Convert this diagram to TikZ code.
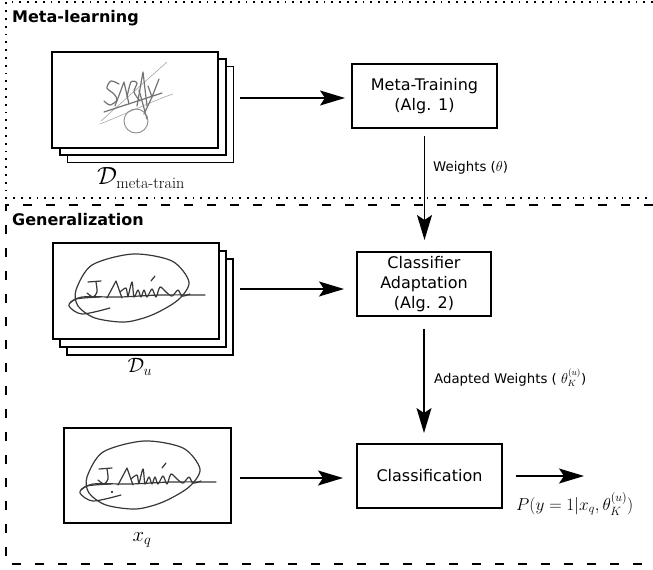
\documentclass[tikz,border=0pt]{standalone}
\usepackage{amsmath}
\usepackage[no-math]{fontspec}
\newfontfamily\dejavu{DejaVu Sans}
\usetikzlibrary{arrows.meta}
\begin{document}
\begin{tikzpicture}[x=1pt,y=-1pt,
  dotline/.style={line width=1.8pt,dash pattern=on 1.8pt off 6pt},
  dashline/.style={line width=1.8pt,dash pattern=on 9pt off 14pt},
  procbox/.style={draw,line width=1.3pt,inner sep=0pt,outer sep=0pt,minimum height=64pt,align=center,
    font=\dejavu\fontsize{16}{20}\selectfont},
  imgbox/.style={draw,line width=1.6pt,fill=white,inner sep=0pt,outer sep=0pt,minimum width=166pt,minimum height=96pt},
  arr/.style={line width=1.4pt,-{Stealth[length=25pt,width=15pt,inset=5pt]}},
  lbl/.style={font=\dejavu\fontsize{13.3}{15}\selectfont,inner sep=0pt},
  ttl/.style={font=\dejavu\bfseries\fontsize{16}{18}\selectfont,inner sep=0pt},
  mlbl/.style={inner sep=0pt,font=\fontsize{21}{24}\selectfont},
  sig/.style={line width=1.2pt,draw=black!78,line cap=round,line join=round},
  sigthin/.style={line width=0.6pt,draw=black!35,line cap=round},
  siggray/.style={line width=1.2pt,draw=black!55,line cap=round,line join=round}]
\useasboundingbox (0,0) rectangle (653,570);

% frames
\draw[dotline] (653,2) -- (6,2) -- (6,198) -- (653,198);
\draw[dashline] (653,205) -- (6,205) -- (6,564) -- (653,564);
\node[ttl,anchor=base west] (tml) at (12,23) {Meta-learning};
\node[ttl,anchor=base west] (tgen) at (12,225) {Generalization};

% stack 1
\node[imgbox] (bk1) at (150.5,114.5) {};
\node[imgbox] (md1) at (143,107) {};
\node[imgbox] (fr1) at (135,100) {};
\draw[sigthin] (101,121) -- (167,62);
\draw[sigthin] (100,124) .. controls (130,112) and (155,100) .. (173,94);
\draw[siggray] plot[smooth] coordinates {(119,84) (111,81) (107,88) (114,94) (117,100) (110,105) (104,101)};
\draw[siggray] (115,106) -- (124,82) -- (129,104);
\draw[siggray] plot[smooth] coordinates {(127,97) (131,82) (137,83) (134,92) (140,101)};
\draw[siggray] (137,106) -- (143,72) -- (147,106);
\draw[siggray] (148,86) -- (152,97) -- (159,79);
\draw[siggray] (152,97) -- (144,114);
\draw[siggray] (104,112) -- (162,93);
\draw[siggray] (139,90) -- (147,119);
\draw[line width=0.9pt,draw=black!45] (136,121) ellipse (12 and 12);
\node[mlbl,font=\fontsize{23}{26}\selectfont] (dmt) at (141,178) {$\mathcal{D}_{\text{meta-train}}$};

% stack 2
\node[imgbox] (bk2) at (150,307) {};
\node[imgbox] (md2) at (143,299) {};
\node[imgbox] (fr2) at (136,291) {};
\newcommand\mysigJ{%
  \draw[sig] plot[smooth cycle] coordinates {(76,290) (92,265) (133,254) (172,261) (189,282) (178,300) (152,315) (125,322) (95,318) (78,306)};
  \draw[sig] plot[smooth] coordinates {(70,303) (82,297) (120,297) (160,295) (205,295)};
  \draw[sig] plot[smooth] coordinates {(110,308) (82,314) (69,306) (76,299) (100,297)};
  \draw[sig] (88,282) -- (101,281);
  \draw[sig] plot[smooth] coordinates {(96,282) (97,292) (93,297) (87,293)};
  \draw[sig] (107,298) -- (116,281) -- (122,298);
  \draw[sig] plot[smooth] coordinates {(120,292) (126,288) (128,296) (132,282) (134,297) (138,290) (141,297) (144,290) (147,297) (152,289) (156,297) (160,287) (166,292) (172,296) (178,290) (182,296) (190,294)};
  \draw[sig] (151,281) -- (155,276);
}
\mysigJ
\node[mlbl] (du) at (140,367) {$\mathcal{D}_u$};

% query image
\node[imgbox,minimum width=167pt,minimum height=95pt] (xq) at (147.5,475.5) {};
\begin{scope}[shift={(11,187)}]
\mysigJ
\draw[sig] (101,305) circle (0.6);
\end{scope}
\node[mlbl] (xql) at (142,540) {$x_q$};

% process boxes
\node[procbox,minimum width=145pt] (mt) at (424.5,96) {Meta-Training\\(Alg. 1)};
\node[procbox,minimum width=134pt] (ca) at (424,284) {Classifier\\Adaptation\\(Alg. 2)};
\node[procbox,minimum width=145pt] (cl) at (429.5,476) {Classification};

% horizontal arrows
\coordinate (h1) at (240,98);
\coordinate (h2) at (240,289);
\coordinate (h3) at (240,478);
\draw[arr,shorten >=7pt] (h1) -- (h1 -| mt.west);
\draw[arr,shorten >=13pt] (h2) -- (h2 -| ca.west);
\draw[arr,shorten >=14pt] (h3) -- (h3 -| cl.west);

% vertical arrows
\draw[arr,shorten <=8pt,shorten >=12pt] (mt.south) -- (mt.south |- ca.north);
\draw[arr,shorten <=13pt,shorten >=11pt] (ca.south) -- (ca.south |- cl.north);
\node[lbl,anchor=base west] (w1) at (433,171) {Weights ($\theta$)};
\node[lbl,anchor=base west] (w2) at (434,383) {Adapted Weights ( $\theta_K^{(u)}$)};

% output
\coordinate (out) at (584,476);
\draw[arr,shorten <=14pt] (cl.east) -- (out);
\node[inner sep=0pt,anchor=base west,font=\fontsize{17}{20}\selectfont] (pl) at (516,510) {$P(y=1|x_q,\theta_K^{(u)})$};
\end{tikzpicture}
\end{document}
